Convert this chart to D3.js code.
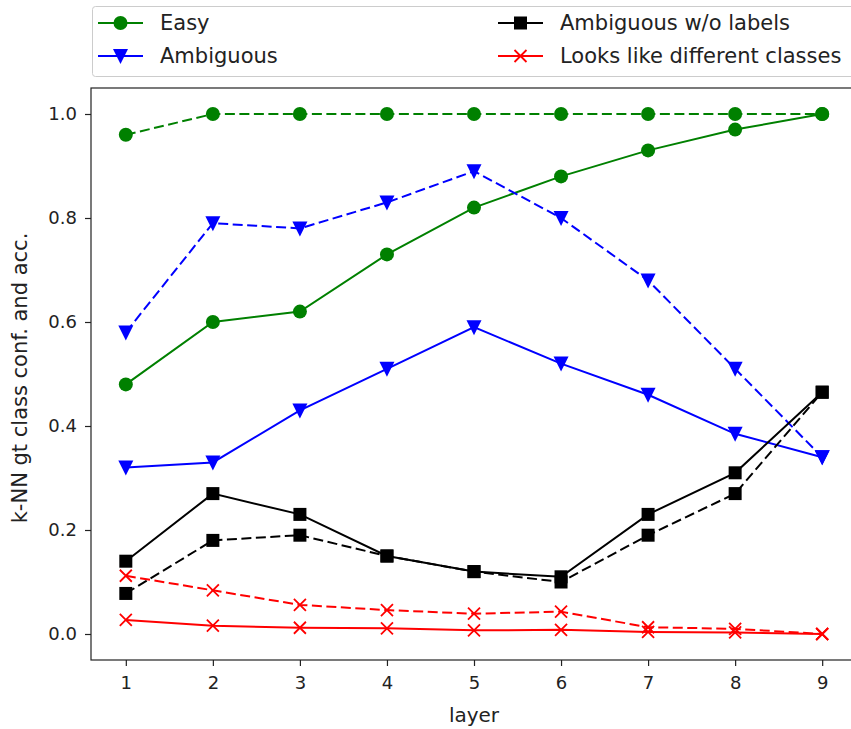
<!DOCTYPE html>
<html>
<head>
<meta charset="utf-8">
<script src="https://cdn.jsdelivr.net/npm/d3@7"></script>
<style>
body { margin: 0; background: #fff; overflow: hidden; }
text { font-family: "DejaVu Sans", sans-serif; fill: #222; }
</style>
</head>
<body>
<div id="chart"></div>
<script>
var layers = [1, 2, 3, 4, 5, 6, 7, 8, 9];
var yTicks = [0.0, 0.2, 0.4, 0.6, 0.8, 1.0];

var easyConf = [0.48, 0.60, 0.62, 0.73, 0.82, 0.88, 0.93, 0.97, 1.0];
var easyAcc = [0.96, 1.0, 1.0, 1.0, 1.0, 1.0, 1.0, 1.0, 1.0];
var ambConf = [0.32, 0.33, 0.43, 0.51, 0.59, 0.52, 0.46, 0.385, 0.34];
var ambAcc = [0.58, 0.79, 0.78, 0.83, 0.89, 0.80, 0.68, 0.51, 0.34];
var noLabConf = [0.14, 0.27, 0.23, 0.15, 0.12, 0.11, 0.23, 0.31, 0.465];
var noLabAcc = [0.078, 0.18, 0.19, 0.15, 0.12, 0.10, 0.19, 0.27, 0.465];
var diffConf = [0.027, 0.016, 0.012, 0.011, 0.007, 0.008, 0.004, 0.003, 0.0];
var diffAcc = [0.112, 0.084, 0.056, 0.046, 0.039, 0.043, 0.013, 0.010, 0.0];

var series = [
  {name: "Easy", color: "green", marker: "circle", conf: easyConf, acc: easyAcc},
  {name: "Ambiguous", color: "blue", marker: "tri", conf: ambConf, acc: ambAcc},
  {name: "Ambiguous w/o labels", color: "black", marker: "square", conf: noLabConf, acc: noLabAcc},
  {name: "Looks like different classes", color: "red", marker: "x", conf: diffConf, acc: diffAcc}
];

var W = 851, H = 729;
var axL = 91, axR = 857, axT = 88, axB = 660;

var svg = d3.select("#chart").append("svg").attr("width", W).attr("height", H);

var x = d3.scaleLinear().domain([0.6, 9.4]).range([axL, axR]);
var y = d3.scaleLinear().domain([-0.05, 1.05]).range([axB, axT]);

var xAxis = svg.append("g").attr("transform", "translate(0," + axB + ")")
  .call(d3.axisBottom(x).tickValues(layers).tickFormat(d3.format("d")).tickSize(6).tickSizeOuter(0));
var yAxis = svg.append("g").attr("transform", "translate(" + axL + ",0)")
  .call(d3.axisLeft(y).tickValues(yTicks).tickFormat(d3.format(".1f")).tickSize(6).tickSizeOuter(0));
[xAxis, yAxis].forEach(function (a) {
  a.select(".domain").remove();
  a.selectAll("line").attr("stroke", "#222").attr("stroke-width", 1.2);
  a.selectAll("text").style("font-size", "18px").attr("fill", "#222");
});
xAxis.selectAll("text").attr("y", 16).attr("dy", "0.71em");
yAxis.selectAll("text").attr("x", -14);

svg.append("rect").attr("x", axL).attr("y", axT).attr("width", axR - axL).attr("height", axB - axT)
  .attr("fill", "none").attr("stroke", "#222").attr("stroke-width", 1.2);

svg.append("text").attr("x", x(5)).attr("y", 722)
  .attr("text-anchor", "middle").style("font-size", "20px").text("layer");
svg.append("text").attr("transform", "translate(27,378) rotate(-90)")
  .attr("text-anchor", "middle").style("font-size", "21px").text("k-NN gt class conf. and acc.");

function drawMarker(g, type, color, cx, cy) {
  if (type === "circle") {
    g.append("circle").attr("cx", cx).attr("cy", cy).attr("r", 7).attr("fill", color);
  } else if (type === "square") {
    g.append("rect").attr("x", cx - 6.5).attr("y", cy - 6.5).attr("width", 13).attr("height", 13).attr("fill", color);
  } else if (type === "tri") {
    g.append("path").attr("d", "M" + (cx - 7.5) + "," + (cy - 7) + "L" + (cx + 7.5) + "," + (cy - 7) + "L" + cx + "," + (cy + 8) + "Z")
      .attr("fill", color);
  } else {
    g.append("path").attr("d", "M" + (cx - 6) + "," + (cy - 6) + "L" + (cx + 6) + "," + (cy + 6) + "M" + (cx - 6) + "," + (cy + 6) + "L" + (cx + 6) + "," + (cy - 6))
      .attr("stroke", color).attr("stroke-width", 1.8).attr("fill", "none");
  }
}

var line = d3.line().x(function (d, i) { return x(layers[i]); }).y(function (d) { return y(d); });

series.forEach(function (s) {
  [["acc", "10,4.5"], ["conf", null]].forEach(function (k) {
    var g = svg.append("g");
    g.append("path").attr("d", line(s[k[0]])).attr("fill", "none").attr("stroke", s.color)
      .attr("stroke-width", 2).attr("stroke-dasharray", k[1]);
    s[k[0]].forEach(function (v, i) { drawMarker(g, s.marker, s.color, x(layers[i]), y(v)); });
  });
});

// legend
var leg = svg.append("g");
leg.append("rect").attr("x", 92.5).attr("y", 6.5).attr("width", 770).attr("height", 70).attr("rx", 3)
  .attr("fill", "white").attr("stroke", "#ccc").attr("stroke-width", 1);
series.forEach(function (s, i) {
  var col = i < 2 ? 0 : 1, row = i % 2;
  var lx = col === 0 ? 98 : 498, ly = row === 0 ? 23 : 56;
  leg.append("line").attr("x1", lx).attr("x2", lx + 45).attr("y1", ly).attr("y2", ly)
    .attr("stroke", s.color).attr("stroke-width", 2);
  drawMarker(leg, s.marker, s.color, lx + 22.5, ly);
  leg.append("text").attr("x", lx + 62).attr("y", ly).attr("dy", "0.35em")
    .style("font-size", "21px").text(s.name);
});
</script>
</body>
</html>
